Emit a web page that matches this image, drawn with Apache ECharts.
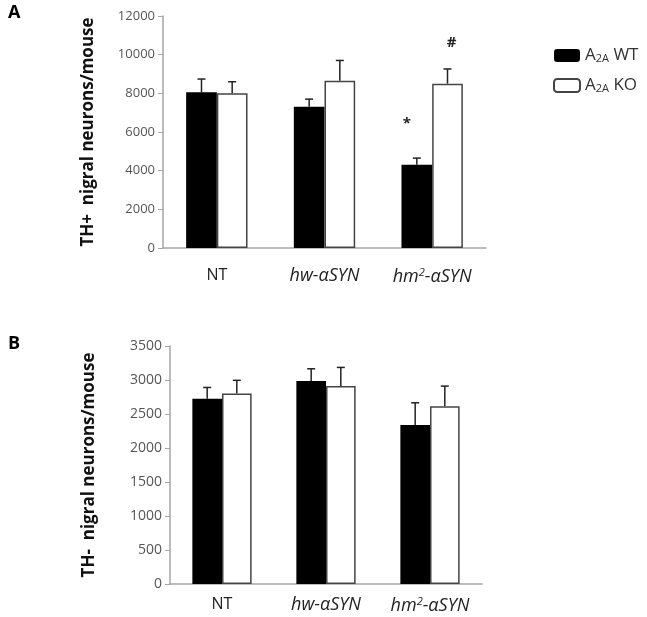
<!DOCTYPE html>
<html>
<head>
<meta charset="utf-8">
<script src="https://cdn.jsdelivr.net/npm/echarts@6/dist/echarts.min.js"></script>
<style>
  html, body { margin: 0; padding: 0; background: #fff; }
  #chart { width: 647px; height: 617px; }
</style>
</head>
<body>
<div id="chart"></div>
<script>
// categories
const groups = ["NT", "hw-αSYN", "hm2-αSYN"];

// panel A: TH+ neurons
const thPosWT = [8050, 7300, 4300];
const thPosWTErr = [690, 400, 350];
const thPosKO = [8000, 8650, 8500];
const thPosKOErr = [600, 1050, 760];

// panel B: TH- neurons
const thNegWT = [2725, 2985, 2340];
const thNegWTErr = [165, 180, 325];
const thNegKO = [2800, 2910, 2615];
const thNegKOErr = [195, 275, 295];

// significance marks in panel A: [category, value, series]
const sigMarks = [[2, 6450, 0], [2, 10600, 1]];
const sigText = ["*", "#"];

const catGap = 0.43;
const font = "Open Sans";

// error bar (upper only) drawn with the axis scales
const renderErr = (params, api) => {
  const c = api.value(0);
  const v = api.value(1);
  const e = api.value(2);
  const s = api.value(3);
  const band = api.size([1, 0])[0];
  const bw = (band * (1 - catGap)) / 2;
  const x = api.coord([c, v])[0] + (s === 0 ? -bw / 2 : bw / 2);
  const base = api.coord([c, v])[1];
  const top = api.coord([c, v + e])[1];
  const style = { stroke: "#222", lineWidth: 1.5 };
  return {
    type: "group",
    children: [
      { type: "line", shape: { x1: x, y1: base, x2: x, y2: top }, style },
      { type: "line", shape: { x1: x - 4, y1: top, x2: x + 4, y2: top }, style },
    ],
  };
};

const renderSig = (params, api) => {
  const c = api.value(0);
  const v = api.value(1);
  const s = api.value(2);
  const band = api.size([1, 0])[0];
  const bw = (band * (1 - catGap)) / 2;
  const pt = api.coord([c, v]);
  return {
    type: "text",
    x: pt[0] + (s === 0 ? -bw / 2 - 10 : bw / 2 + 4),
    y: pt[1],
    style: {
      text: sigText[params.dataIndex],
      fill: "#222",
      font: "bold 15px " + font,
      textAlign: "center",
      textVerticalAlign: "middle",
    },
  };
};

const errData = (vals, errs, s) => vals.map((v, i) => [i, v, errs[i], s]);

const xLabel = (v) => {
  if (v === "NT") return "{n|NT}";
  if (v === "hm2-αSYN") return "{i|hm}{sup|2}{i|-αSYN}";
  return "{i|" + v + "}";
};

const xAxisBase = (idx, margin) => ({
  type: "category",
  gridIndex: idx,
  data: groups,
  axisLine: { lineStyle: { color: "#a6a6a6", width: 1.5 } },
  axisTick: { show: false },
  axisLabel: {
    interval: 0,
    margin: margin,
    formatter: xLabel,
    rich: {
      n: { fontFamily: font, fontSize: 16, color: "#222" },
      i: { fontFamily: font, fontSize: 18, fontStyle: "italic", color: "#222" },
      sup: { fontFamily: font, fontSize: 11, fontStyle: "italic", color: "#222", verticalAlign: "top", padding: [0, 0, 8, 0] },
    },
  },
});

const yAxisBase = (idx, max, interval, name, gap, fs) => ({
  type: "value",
  gridIndex: idx,
  min: 0,
  max: max,
  interval: interval,
  name: name,
  nameLocation: "middle",
  nameGap: gap,
  nameTextStyle: { fontFamily: font, fontSize: 17, fontWeight: "bold", color: "#111" },
  axisLine: { show: true, lineStyle: { color: "#a6a6a6", width: 1.5 } },
  axisTick: { show: true, length: 5, lineStyle: { color: "#a6a6a6" } },
  splitLine: { show: false },
  axisLabel: { fontFamily: font, fontSize: fs, color: "#555", margin: 8, formatter: (v) => String(v) },
});

const wtStyle = { color: "#000" };
const koStyle = { color: "#fff", borderColor: "#444", borderWidth: 1.5 };

const option = {
  backgroundColor: "#fff",
  animation: false,
  graphic: [
    { type: "text", left: 8, top: 4, style: { text: "A", font: "bold 18px " + font, fill: "#000" } },
    { type: "text", left: 8, top: 335, style: { text: "B", font: "bold 18px " + font, fill: "#000" } },
  ],
  legend: {
    left: 548,
    top: 42,
    orient: "vertical",
    itemWidth: 26,
    itemHeight: 13,
    itemGap: 13,
    data: ["A2A WT", "A2A KO"],
    formatter: (n) => "A{sub|2A}" + n.slice(3),
    textStyle: {
      fontFamily: font,
      fontSize: 17,
      color: "#333",
      rich: { sub: { fontFamily: font, fontSize: 11, color: "#333", verticalAlign: "bottom", padding: [6, 0, 0, 0] } },
    },
  },
  grid: [
    { left: 163, right: 161, top: 16, bottom: 369 },
    { left: 170, right: 165, top: 346, bottom: 33 },
  ],
  xAxis: [xAxisBase(0, 19), xAxisBase(1, 12)],
  yAxis: [
    yAxisBase(0, 12000, 2000, "TH+  nigral neurons/mouse", 66, 13),
    yAxisBase(1, 3500, 500, "TH-  nigral neurons/mouse", 72, 14),
  ],
  series: [
    { name: "A2A WT", type: "bar", xAxisIndex: 0, yAxisIndex: 0, data: thPosWT, itemStyle: wtStyle, barGap: "0%", barCategoryGap: catGap * 100 + "%" },
    { name: "A2A KO", type: "bar", xAxisIndex: 0, yAxisIndex: 0, data: thPosKO, itemStyle: koStyle, barGap: "0%", barCategoryGap: catGap * 100 + "%" },
    { name: "A2A WT", type: "bar", xAxisIndex: 1, yAxisIndex: 1, data: thNegWT, itemStyle: wtStyle, barGap: "0%", barCategoryGap: catGap * 100 + "%" },
    { name: "A2A KO", type: "bar", xAxisIndex: 1, yAxisIndex: 1, data: thNegKO, itemStyle: koStyle, barGap: "0%", barCategoryGap: catGap * 100 + "%" },
    { type: "custom", xAxisIndex: 0, yAxisIndex: 0, z: 5, renderItem: renderErr, data: errData(thPosWT, thPosWTErr, 0).concat(errData(thPosKO, thPosKOErr, 1)) },
    { type: "custom", xAxisIndex: 1, yAxisIndex: 1, z: 5, renderItem: renderErr, data: errData(thNegWT, thNegWTErr, 0).concat(errData(thNegKO, thNegKOErr, 1)) },
    { type: "custom", xAxisIndex: 0, yAxisIndex: 0, z: 6, renderItem: renderSig, data: sigMarks },
  ],
};

const chart = echarts.init(document.getElementById("chart"));
chart.setOption(option);
</script>
</body>
</html>
